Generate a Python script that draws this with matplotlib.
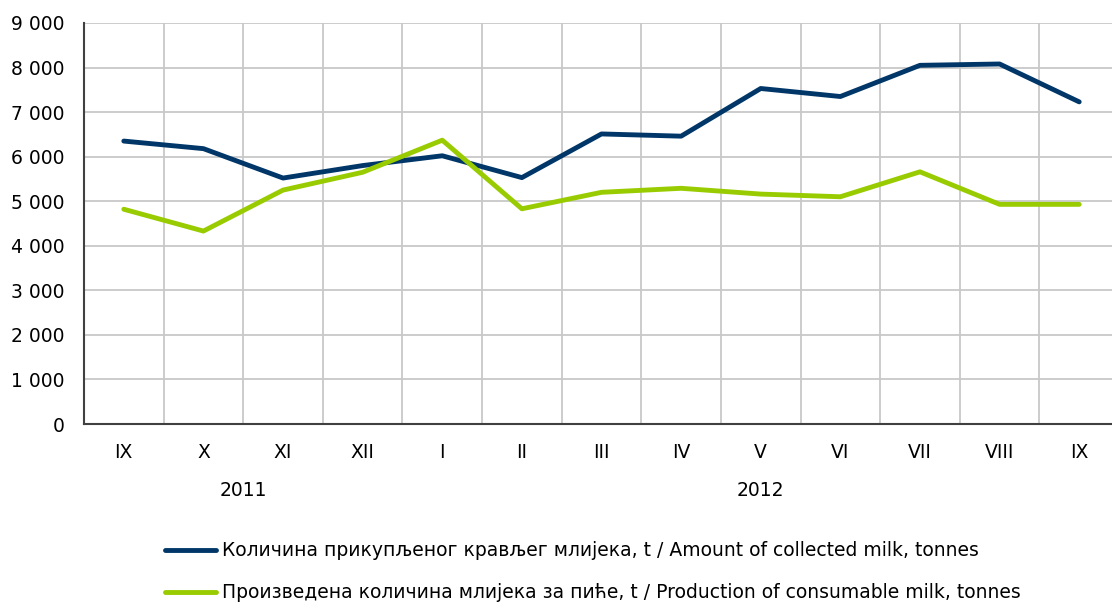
import matplotlib.pyplot as plt
import numpy as np

months = ["IX", "X", "XI", "XII", "I", "II", "III", "IV", "V", "VI", "VII", "VIII", "IX"]
years = ["2011", "2012"]
year_spans = [(0, 3), (4, 12)]
collected = [6350, 6180, 5520, 5800, 6020, 5530, 6510, 6460, 7530, 7350, 8050, 8080, 7230]
consumable = [4820, 4330, 5250, 5650, 6370, 4830, 5200, 5290, 5160, 5100, 5660, 4930, 4930]
labels = [
    "Количина прикупљеног крављег млијека, t / Amount of collected milk, tonnes",
    "Произведена количина млијека за пиће, t / Production of consumable milk, tonnes",
]

NAVY = "#003768"
GREEN = "#99cc00"
GRID = "#c8c8c8"
AXIS = "#404040"
FS = 13.5
LW = 3.5

plt.rcParams["font.family"] = ["DejaVu Sans"]

W, H = 1112, 605
fig = plt.figure(figsize=(W / 100, H / 100), dpi=100)
# plot area runs a little past the right edge of the figure, as in the source
ax = fig.add_axes([84 / W, 1 - 424 / H, 1035 / W, 401 / H])

x = np.arange(len(months))
ax.plot(x, collected, color=NAVY, lw=LW, solid_capstyle="round", solid_joinstyle="round", label=labels[0])
ax.plot(x, consumable, color=GREEN, lw=LW, solid_capstyle="round", solid_joinstyle="round", label=labels[1])

ax.set_xlim(-0.5, len(months) - 0.5)
ax.set_ylim(0, 9000)
ax.set_yticks(np.arange(0, 9001, 1000))
ax.set_yticklabels([f"{v:,}".replace(",", " ") for v in range(0, 9001, 1000)], fontsize=FS)
ax.set_xticks(x)
ax.set_xticklabels(months, fontsize=FS)
ax.set_xticks(np.arange(0.5, len(months) - 0.5), minor=True)
ax.tick_params(axis="both", which="both", length=0)
ax.tick_params(axis="y", pad=14)
ax.tick_params(axis="x", pad=14)

ax.grid(axis="y", color=GRID, lw=1.3)
ax.grid(axis="x", which="minor", color=GRID, lw=1.3)
ax.set_axisbelow(True)
for side in ["top", "right"]:
    ax.spines[side].set_visible(False)
for side in ["left", "bottom"]:
    ax.spines[side].set_color(AXIS)
    ax.spines[side].set_linewidth(1.5)

for year, (a, b) in zip(years, year_spans):
    ax.annotate(year, xy=((a + b) / 2, 0), xycoords=("data", "axes fraction"),
                xytext=(0, -67), textcoords="offset pixels", ha="center", va="center", fontsize=FS)

# legend drawn by hand at the bottom
for i, (lab, col) in enumerate(zip(labels, [NAVY, GREEN])):
    yy = 1 - (550 + 42 * i) / H
    fig.add_artist(plt.Line2D([165 / W, 216 / W], [yy, yy], color=col, lw=LW,
                              solid_capstyle="round", transform=fig.transFigure))
    fig.text(222 / W, yy, lab, fontsize=FS, va="center", ha="left")

fig.savefig("out.png", dpi=100)
